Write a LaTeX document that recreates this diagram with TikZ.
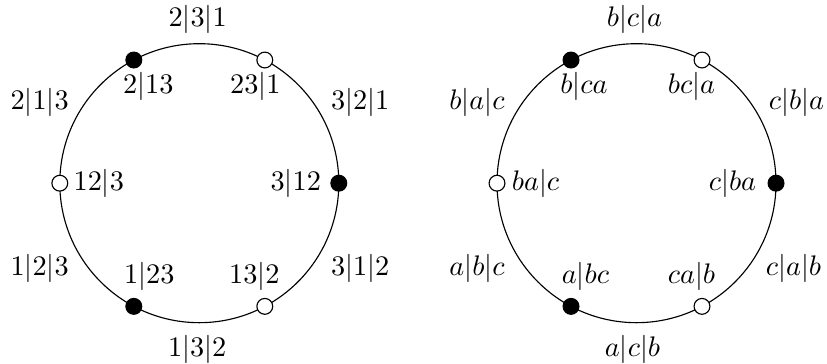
\documentclass[tikz,border=0pt]{standalone}
\begin{document}
\begin{tikzpicture}[x=0.3534pt, y=0.3534pt,
  ring/.style={line width=0.4pt},
  full/.style={circle, draw, line width=0.4pt, fill=black, inner sep=0pt, minimum size=5.6pt},
  hollow/.style={circle, draw, line width=0.4pt, fill=white, inner sep=0pt, minimum size=5.6pt},
  lab/.style={inner sep=0pt}]
\useasboundingbox (0,0) rectangle (827,364);

% numeric labels
\begin{scope}[shift={(199.3,180.8)}]
  \draw[ring] (0,0) circle[radius=139.5];
  \node[full]   (L0)   at (0:139.5)   {};
  \node[hollow] (L60)  at (62:139.5)  {};
  \node[full]   (L120) at (118:139.5) {};
  \node[hollow] (L180) at (180:139.5) {};
  \node[full]   (L240) at (242:139.5) {};
  \node[hollow] (L300) at (298:139.5) {};
  % points
  \node[lab] (lp0)   at (96.5,0)   {$3|12$};
  \node[lab] (lp60)  at (56,97)    {$23|1$};
  \node[lab] (lp120) at (-51,97)   {$2|13$};
  \node[lab] (lp180) at (-100.5,0) {$12|3$};
  \node[lab] (lp240) at (-50,-93)  {$1|23$};
  \node[lab] (lp300) at (55,-93)   {$13|2$};
  % arcs
  \node[lab] (la30)  at (161,81)    {$3|2|1$};
  \node[lab] (la90)  at (-1.5,164)  {$2|3|1$};
  \node[lab] (la150) at (-159.5,81) {$2|1|3$};
  \node[lab] (la210) at (-159.5,-85){$1|2|3$};
  \node[lab] (la270) at (-2,-166)   {$1|3|2$};
  \node[lab] (la330) at (161,-85)   {$3|1|2$};
\end{scope}

% letter labels
\begin{scope}[shift={(636.5,180.8)}]
  \draw[ring] (0,0) circle[radius=139.5];
  \node[full]   (R0)   at (0:139.5)   {};
  \node[hollow] (R60)  at (62:139.5)  {};
  \node[full]   (R120) at (118:139.5) {};
  \node[hollow] (R180) at (180:139.5) {};
  \node[full]   (R240) at (242:139.5) {};
  \node[hollow] (R300) at (298:139.5) {};
  % points
  \node[lab] (rp0)   at (96,0)     {$c|ba$};
  \node[lab] (rp60)  at (55,97)    {$bc|a$};
  \node[lab] (rp120) at (-52.5,97) {$b|ca$};
  \node[lab] (rp180) at (-101,0)   {$ba|c$};
  \node[lab] (rp240) at (-51,-93)  {$a|bc$};
  \node[lab] (rp300) at (55,-93)   {$ca|b$};
  % arcs
  \node[lab] (ra30)  at (160,81)    {$c|b|a$};
  \node[lab] (ra90)  at (-2,164)    {$b|c|a$};
  \node[lab] (ra150) at (-159.5,81) {$b|a|c$};
  \node[lab] (ra210) at (-159.5,-85){$a|b|c$};
  \node[lab] (ra270) at (-4,-166)   {$a|c|b$};
  \node[lab] (ra330) at (157,-85)   {$c|a|b$};
\end{scope}
\end{tikzpicture}
\end{document}
